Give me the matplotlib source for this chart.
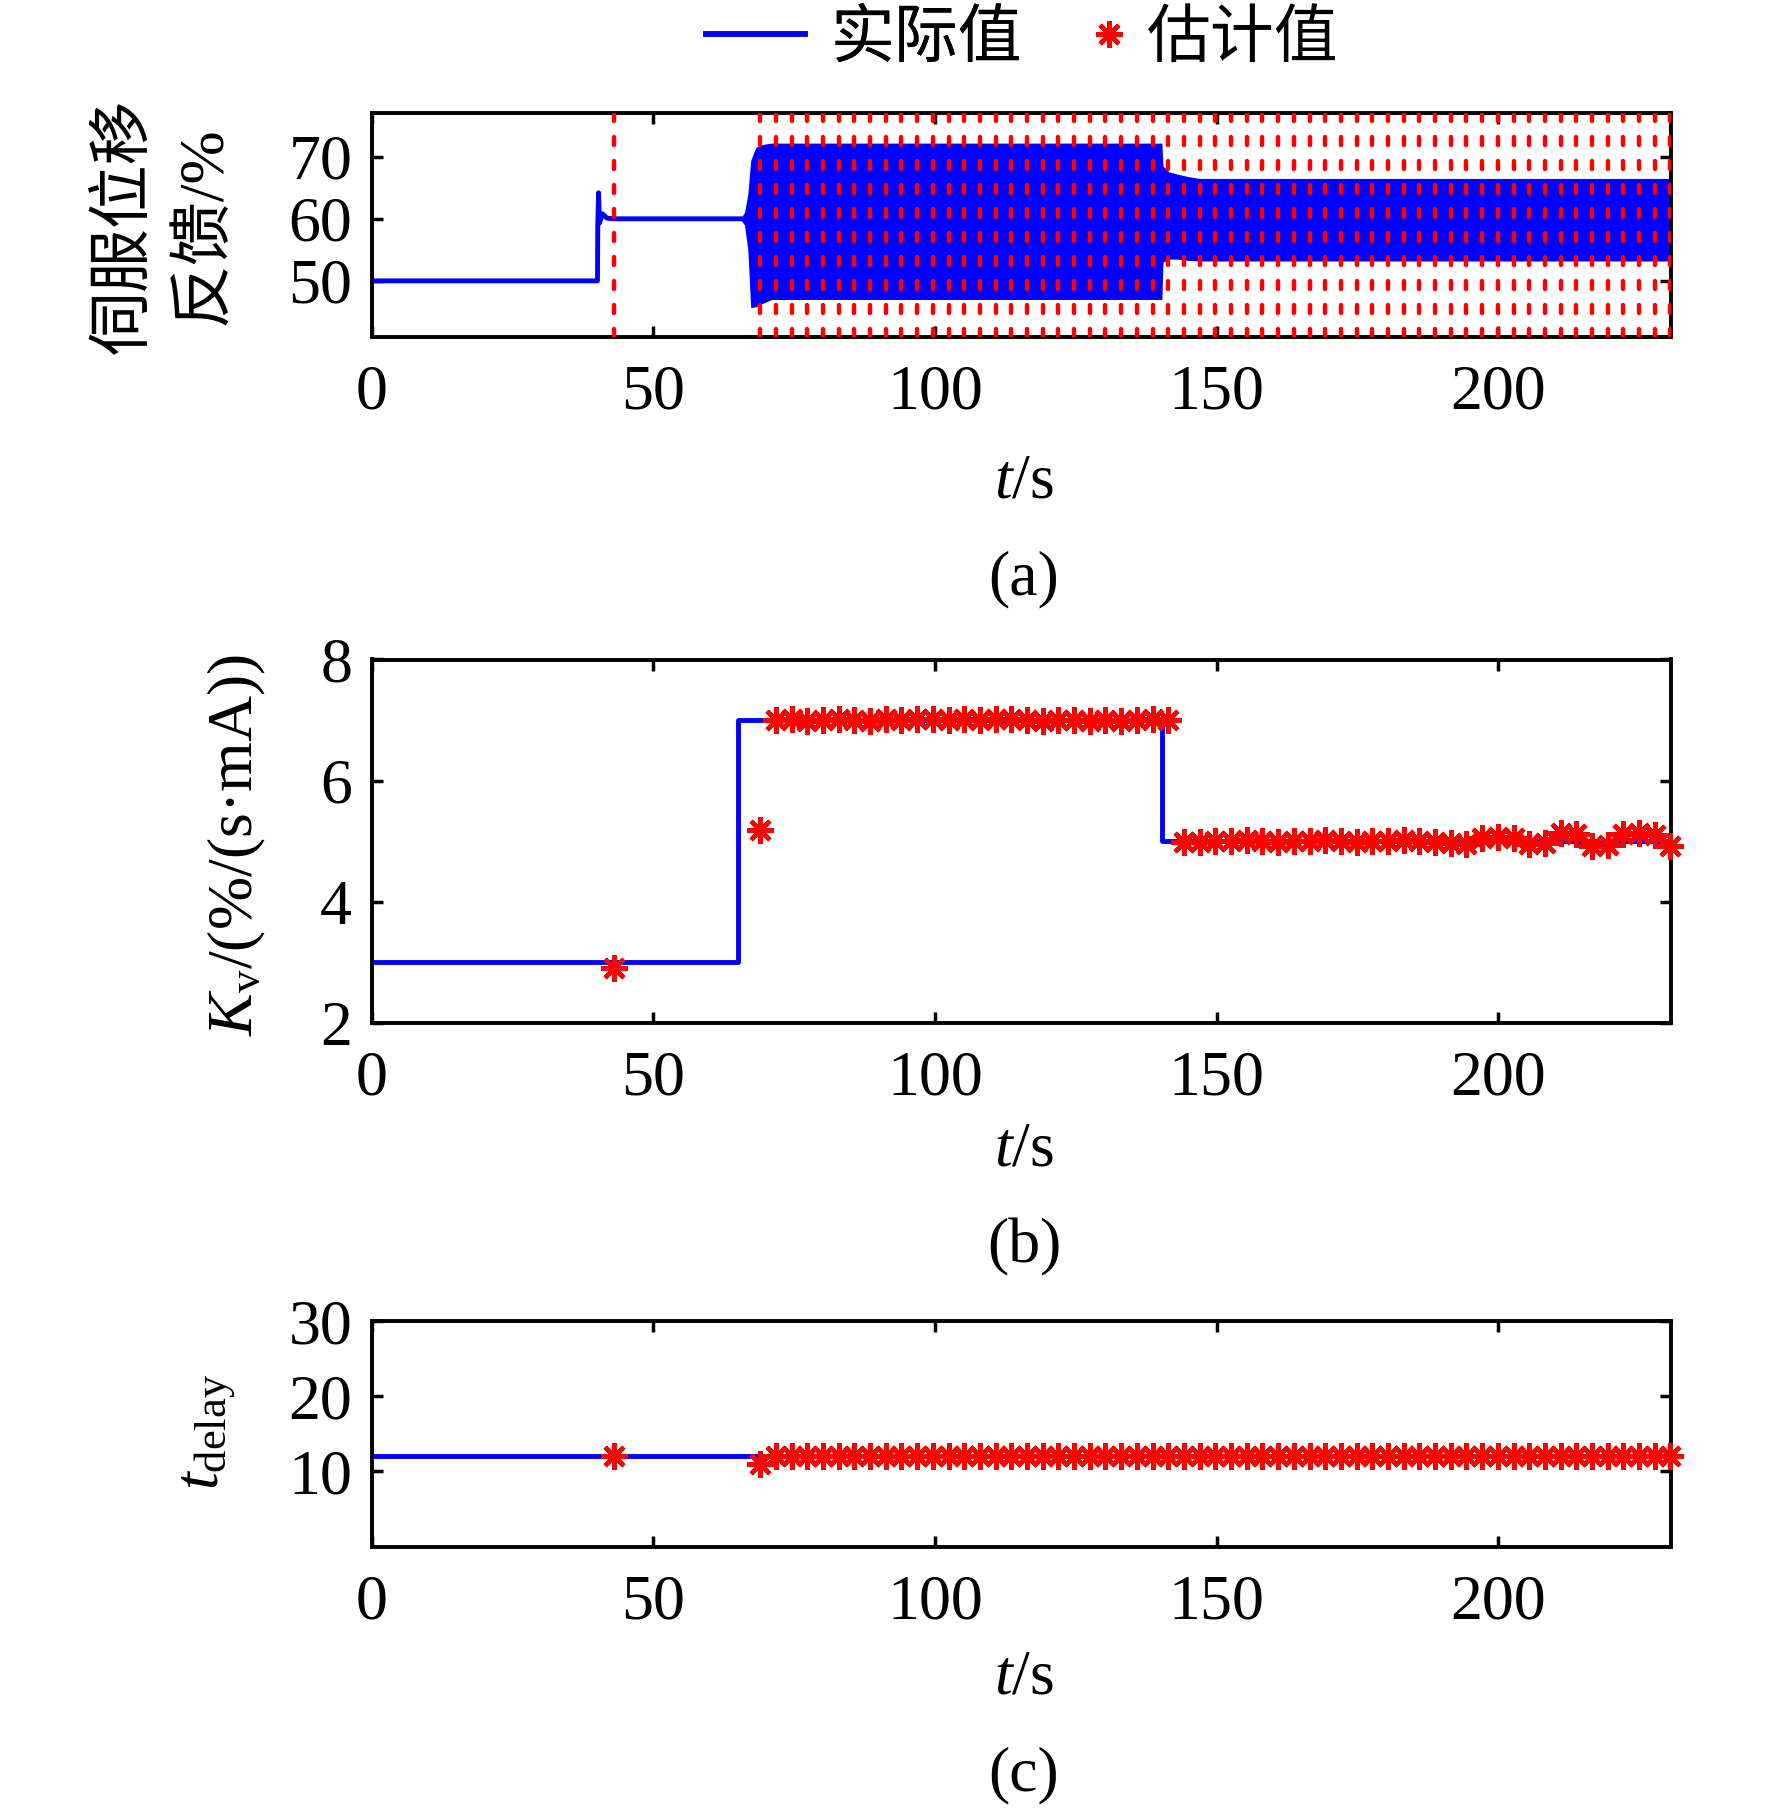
import matplotlib
matplotlib.use("Agg")
import matplotlib.pyplot as plt
from matplotlib.lines import Line2D

plt.rcParams['font.family'] = ['Liberation Serif', 'Noto Sans CJK SC']
plt.rcParams['mathtext.fontset'] = 'custom'
plt.rcParams['mathtext.rm'] = 'Liberation Serif'
plt.rcParams['mathtext.it'] = 'Liberation Serif:italic'

# ---------------- data ----------------
# estimation instants (s)
est_t = [43.0, 69.0, 71.79, 74.57, 77.36, 80.14, 82.93, 85.72, 88.50, 91.29,
         94.07, 96.86, 99.65, 102.43, 105.22, 108.00, 110.79, 113.58, 116.36,
         119.15, 121.93, 124.72, 127.51, 130.29, 133.08, 135.86, 138.65,
         141.44, 144.22, 147.01, 149.79, 152.58, 155.37, 158.15, 160.94,
         163.72, 166.51, 169.30, 172.08, 174.87, 177.65, 180.44, 183.23,
         186.01, 188.80, 191.58, 194.37, 197.16, 199.94, 202.73, 205.51,
         208.30, 211.09, 213.87, 216.66, 219.44, 222.23, 225.02, 227.80,
         230.59]

# (b) Kv estimates
kv_est = [2.90, 5.18,
          7.00, 7.01, 6.99, 7.00, 7.01, 7.00, 6.99, 7.02, 7.00, 7.01, 7.02,
          7.00, 7.01, 7.00, 7.02, 7.01, 7.00, 6.99, 7.00, 7.00, 6.99, 7.00,
          6.98, 7.00, 7.01, 7.00,
          4.98, 4.99, 5.00, 5.01, 5.02, 5.00, 4.99, 5.00, 5.01, 5.02, 5.00,
          4.99, 5.01, 5.00, 5.02, 5.01, 4.99,
          4.97, 4.95, 5.06, 5.07, 5.05, 4.95, 4.97, 5.13, 5.12, 4.92, 4.93,
          5.12, 5.13, 5.10, 4.92]

# (c) delay estimates
td_est = [12.0, 11.0] + [12.0] * 58

# (b) actual Kv (step)
kv_act_t = [0.0, 65.1, 140.4, 230.6]
kv_act = [3.0, 7.0, 5.0, 5.0]

# (c) actual delay
td_act_t = [0.0, 230.6]
td_act = [12.0, 12.0]

# (a) servo feedback: steady part before oscillation
fb_line_t = [0.0, 40.1, 40.15, 40.3, 40.45, 41.0, 41.8, 43.0, 65.4]
fb_line_y = [50.0, 50.0, 59.0, 64.2, 59.3, 60.8, 60.1, 60.0, 60.0]
# (a) oscillation envelope
fb_band_t = [65.4, 66.2, 66.8, 67.3, 68.2, 69.5, 71.0, 140.3, 140.5, 141.5,
             143.0, 145.0, 147.0, 230.6]
fb_band_hi = [60.0, 61.0, 64.0, 69.4, 71.5, 72.0, 72.2, 72.2, 68.5, 67.6,
              67.2, 66.8, 66.5, 66.5]
fb_band_lo = [60.0, 59.0, 55.0, 45.7, 45.8, 46.4, 47.0, 47.0, 53.0, 53.5,
              53.5, 53.3, 53.2, 53.2]

xticks = [0, 50, 100, 150, 200]
XMAX = 230.6

# ---------------- style ----------------
FS = 46
BLUE = (0, 0, 1)
RED = (1, 0, 0)
AST = (8, 2, 0)
W, H = 1772, 1809
LW = 3.5
MS = 19
MEW = 3.2

fig = plt.figure(figsize=(W / 100, H / 100), dpi=100)

def make_ax(top_px, bot_px):
    left = 371.6 / W
    right = 1670.5 / W
    ax = fig.add_axes([left, 1 - bot_px / H, right - left, (bot_px - top_px) / H])
    for s in ax.spines.values():
        s.set_linewidth(2.8)
    ax.tick_params(direction='in', length=8, width=2.5, top=True, right=True,
                   labelsize=FS)
    ax.tick_params(axis='x', pad=20)
    ax.tick_params(axis='y', pad=14)
    ax.set_xlim(0, XMAX)
    ax.set_xticks(xticks)
    return ax

ax_a = make_ax(113.3, 336.7)
ax_b = make_ax(659.5, 1023.0)
ax_c = make_ax(1321.0, 1546.7)

# ---- (a)
ax_a.plot(fb_line_t, fb_line_y, color=BLUE, lw=LW, zorder=2)
ax_a.fill_between(fb_band_t, fb_band_lo, fb_band_hi, color=BLUE, lw=0, zorder=2)
for t in est_t:
    ax_a.axvline(t, color=RED, lw=3.2, dashes=(1.8, 3.6),
                 dash_capstyle='round', zorder=3)
ax_a.set_ylim(41, 77)
ax_a.set_yticks([50, 60, 70])

# ---- (b)
ax_b.plot(kv_act_t, kv_act, color=BLUE, lw=LW, drawstyle='steps-post', zorder=2)
ax_b.plot(est_t, kv_est, ls='none', marker=AST, ms=MS, mew=MEW, color=RED,
          zorder=3, clip_on=False)
ax_b.set_ylim(2, 8)
ax_b.set_yticks([2, 4, 6, 8])

# ---- (c)
ax_c.plot(td_act_t, td_act, color=BLUE, lw=LW, zorder=2)
ax_c.plot(est_t, td_est, ls='none', marker=AST, ms=MS, mew=MEW, color=RED,
          zorder=3, clip_on=False)
ax_c.set_ylim(0, 30)
ax_c.set_yticks([10, 20, 30])

# ---- axis labels
for ax, y in [(ax_a, 483), (ax_b, 1150), (ax_c, 1679)]:
    fig.text(1024 / W, 1 - y / H, r'$t$/s', fontsize=FS, ha='center', va='center')
for lab, y in [('(a)', 579), ('(b)', 1247), ('(c)', 1775)]:
    fig.text(1024 / W, 1 - y / H, lab, fontsize=FS, ha='center', va='center')

fig.text(166 / W, 1 - 226 / H, '伺服位移\n反馈/%', fontsize=FS, rotation=90,
         ha='center', va='center', multialignment='center', linespacing=1.45)
fig.text(237 / W, 1 - 845 / H, r'$K_{\mathrm{v}}$/(%/(s·mA))', fontsize=FS,
         rotation=90, ha='center', va='center')
fig.text(208 / W, 1 - 1432 / H, r'$t_{\mathrm{delay}}$', fontsize=FS,
         rotation=90, ha='center', va='center')

# ---- legend (two single-entry legends placed side by side)
ly = 1 - 41 / H
h1 = Line2D([], [], color=BLUE, lw=4)
h2 = Line2D([], [], ls='none', marker=AST, ms=MS, mew=MEW, color=RED)
leg1 = fig.legend([h1], ['实际值'], loc='center left', bbox_to_anchor=(706 / W, ly),
                  frameon=False, fontsize=FS, handlelength=1.55, handletextpad=0.4,
                  borderpad=0, borderaxespad=0)
leg2 = fig.legend([h2], ['估计值'], loc='center left', bbox_to_anchor=(1087 / W, ly),
                  frameon=False, fontsize=FS, handlelength=0.68, handletextpad=0.25,
                  borderpad=0, borderaxespad=0)
fig.add_artist(leg1)

fig.savefig('out.png', dpi=100)
